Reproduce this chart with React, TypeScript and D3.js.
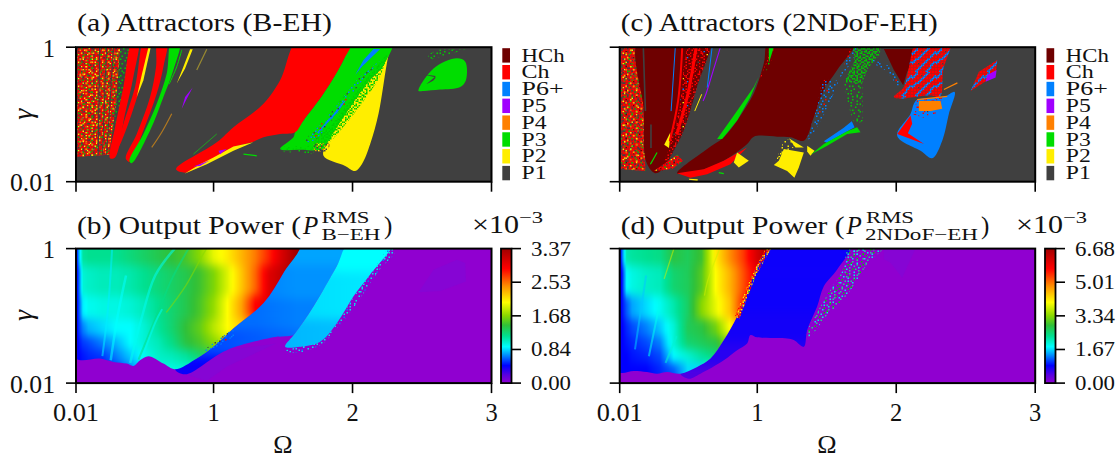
import React from 'react';
import * as d3 from 'd3';

type Pt = [number, number]; // [Omega, log10(gamma)]
type Shape = [Pt[], string];
type Stroke = [Pt[], string, number];

const legendLabels = ['HCh', 'Ch', 'P6+', 'P5', 'P4', 'P3', 'P2', 'P1'];
const legendColors = ['#6e0000', '#ff0000', '#0080ff', '#a000ff', '#ff8000', '#00dd00', '#ffee00', '#404040'];
const xTicks = [0.01, 1, 2, 3];
const gammaTicks = [0.01, 1];
const barLabelsB = ['0.00', '0.84', '1.68', '2.53', '3.37'];
const barLabelsD = ['0.00', '1.67', '3.34', '5.01', '6.68'];

const cmapStops = [0, 0.06, 0.13, 0.2, 0.27, 0.35, 0.43, 0.5, 0.6, 0.72, 0.85, 1];
const cmapColors = ['#9000d0', '#5a00e0', '#0000ff', '#0080ff', '#00ffff', '#00e090', '#30c038', '#88d800', '#ffff00', '#ff9000', '#ff0000', '#a00000'];

// speckle textures, one letter per grid cell
const tiles: Record<string, string[]> = {
  noiseRed: ['rrykrrgrrrryrkrr', 'rrrrrorryrrrrrry', 'gyrrkrrrrrgkrrrr', 'rrrrrrykrrrrroyr', 'rkrgyrrrrkyrrrrr', 'rrrrrrrgrrrrgrkr', 'yrrorkrrrryrrrrr', 'rrrrrrrykrrrkyrg', 'rgkrrrrrrrgrrrrr', 'rrrryrgrrrrrorry', 'krrrrrrrkyrrrrrr', 'rryrgrrrrrrgkrry', 'rrrrrkyrryrrrrrr', 'orkrrrrrrrrkrgrr', 'rrrrgrryrorrrrkr', 'yrrrrrkrrrrryrrr'],
  noiseRedC: ['rrkrrrrrdrrryrrk', 'rrrrrykrrrrrrrkr', 'rdrrkrrrrkrrgrrr', 'rrrrgrrrrrkrrrry', 'kyrrrrrkrrrdrrrr', 'rrrkrrrrrgrrrkrr', 'rrrrrrdrrrkrryrr', 'krrgrrrrryrrrrrk', 'rrrrrkrkrrrrrkrr', 'rykrrrrrrrdrrrrr', 'rrrrkrrrgrrrkrry', 'rkrrrrrrrrrkrrrr', 'rdrrrgrryrrrrrgr', 'rrrkrrrkrrrrkrrr', 'yrrrrrrrrkrrrrrk', 'rrgrrkrrrrrgrrrr'],
  sprinkle: ['..y....k...', 'k.....g....', '....y.....o', '.g.....k...', '......y....', 'y..k.......', '.....g...y.', '..o.......k', 'k.....y....', '...g.....g.', '.......k...'],
  greenDust: ['..g.....g..g..g.', '.....g.......g..', 'g.......g.......', '...g.g.....g...g', '.......g........', '.g.........g.g..', '....g..g.......g', 'g.........g.....', '...g............', '......g.g...g...', '.g...........g.g', '....g....g......', '.......g........', 'g..g........g...', '.....g.g.......g', '.g.........g....'],
  greenCloud: ['g.gg..g.gg.g..gg', '.g..gg...g..gg..', 'gg.g..ggg.gg..g.', '..gg.g.g...g.gg.', 'g...gg..gg.g...g', '.gg.g.g...gg.g..', 'g..g..gg.g..gg.g', '.g.ggg...g.g..g.', 'gg...g.gg.g.gg..', '..gg.gg..gg...gg', 'g.g...g.g..g.g..', '.g.gg..g.gg.g..g', 'gg..g.gg...gg.g.', '..g.g...gg.g..gg', 'g..gg.g.g...gg..', '.gg...gg.g.g..g.'],
  brownDust: ['o.k.y.o..k.o.g.k', '.k.o..k.o..k..o.', 'y..k.o...y.o.k..', '.o...k.o.k...o.k', 'k.o.y...k..y....', '..k..o.k...k.o.y', 'o..k...o.y......', '.k..y.k...o.k.o.', 'o..o..k.o..k...k', '.y.k.o...k...y..', 'k...o.k..o.k..o.', '.o.k...y..k.o...', '..o..k.o.k.....k', 'k.y..o...o.k.y..', '.o..k...k...o..o', '...o.y.o..k.....'],
  redDust: ['.r...r.....r...r', '...r.....g......', 'r......r...r..g.', '....g.....r.....', '.r.....r.....r..', '...r.......g...r', 'r.......r.......', '....r.g.....r...', '..r........r...r', '.......r........', 'g...r.....r...r.', '.r........g.....', '....r..r.....r..', 'r..........r....', '...g..r.....r..g', '.r.......r......'],
  hchRed: ['ddrdddrrdddrddrd', 'drrddddrddrddrdd', 'dddrdbddrrdddddr', 'rddrrddddrddrddd', 'ddddrddyddrrddrd', 'drdddrddrdddrddd', 'dddrrddddrbddddr', 'rddddrddrrdddrdd', 'ddrddddrdddrdddr', 'dkddrrdddrdddrdd', 'ddrdddrddddrrddd', 'rdddrddbdrddddrd', 'ddrddddrrdddrddd', 'dddrrddddrddddrr', 'rdddrddrdddrrddd', 'ddrddrrdddrddddr'],
  redBlue: ['rrrbrrrrrrbbrrrr', 'rrbbrrrrrbbrrrrr', 'rbbrrrkrbbrrrrrb', 'bbrrrrrbbrrrrrbb', 'brrrrrbbrrrrrbbr', 'rrrrrbbrrrrrbbrr', 'rrrrbbrrrrrrbrrr', 'rrbbbrrrrrbbrrrr', 'rbbrrrrrrbbrrrrr', 'bbrrrrrrbbrrrrbb', 'brrrkrrbbrrrrbbr', 'rrrrrrbbrrrrbbrr', 'rrrrrbbrrrrrbrrr', 'rrrrbbrrrrrbbrrr', 'rrrbbrrrrrbbrrrr', 'rrbbrrrrrbbrrrrr'],
  blueRed: ['bbbrbbbbbrbbbbbb', 'bbrrbbrbbbbbrbbr', 'rbbbbbbbrrbbbbbb', 'bbbrbbbbbbbbbrrb', 'bbbbbrbrbbbbbbbb', 'brrbbkbbbbrbbbbr', 'bbbbbbbbbbbrrbbb', 'bbbrrbbrbbbbbbbb', 'rbbbbbbbbrbbbbrb', 'bbbbbrbbbbbbrbbb', 'bbrbbbbbrbkbbbbb', 'bbbbbbbrbbbbbbrr', 'brrbbbbbbbrbbbbb', 'bbbbrbbbbbbbbrbb', 'rbbbbbrrbbbrbbbb', 'bbbrbbbbbbbbbbbr'],
  blueDust: ['.b..k.b...b..k..', '...b.....b.....b', 'b.....r.....b...', '..k.b...b.......', '.b......k..b...k', '...b.r.....k.b..', 'b.....b..b......', '..b.......k...b.', '.k..b.b.....b...', 'b.....k..b......', '..r.b.....b..k..', '.b......b......b', '...k.b.r...b....', 'b.......b...k...', '...b...k.....b..', '.k...b.....b....'],
  yellowDust: ['.y...k...y..k...', '...y...y.....y..', 'y..k.....y.k....', '..y...y......y.k', '.k...y...k.y....', 'y..y.....y.....y', '...k..y.y...k...', '.y.......k.y....', '...y.k.y....y...', 'y.....y..k.....y', '..k.y.....y.y...', '.y....k.y.......', '...y.....y.k.y..', 'k..y.y..........', '.....y...k.y...y', '.y.k....y.......'],
  cyanDust: ['.c.....c.b...c..', '...b.c.....c....', 'c.......c......c', '..c..b.....c.c..', '......c.c.......', '.c.c.......b...c', '.....c..c.c.....', 'c.b.......c.....', '...c.c.......c..', '.......c.b.....c', '.c.......c..c...', '...c.b......c...', 'c......c.c......', '..c.........c..b', '....c..b.c......', '.c.........c....'],
  tealDust: ['.t...g.c...t...g', '...c.....t...g..', 't.....t.....c...', '..g.c...g.t....t', '......t.....t...', '.c.t.....c...g..', '....g.t.....t..c', 't........c.t....', '..c.t.g.........', '.....c...t.c...g', '.g.......g...t..', '...t.c.t........', 'c.......c..g...t', '..t..g.....t....', '....c...t.....g.', '.t.....g...c....'],
  hotEdge: ['yor.rog.oyr.oyr.', 'r.oyro.ryo.ror.o', 'orygo.roy.roro.y', '.ryo.rory.oyr.or', 'yo.rgyo.rory.o.r', 'or.yor.oyr.oyr.o', 'ry.or.yo.gro.r.y', 'o.ryo.ry.ory.o.r', 'yro.gor.ory.or.o', '.oyr.oyr.roy.r.y', 'ro.yr.go.yr.oy.r', 'oy.ro.yr.oyr.o.y', 'r.oyr.oy.ro.yr.o', 'yor.oy.rg.yor.r.', 'o.ry.or.yo.r.oy.', '.yo.r.oy.ro.yr.o'],
};
const tileColors: Record<string, string> = {
  r: '#ff0000', y: '#ffee00', g: '#00cc00', k: '#404040', o: '#ff8000', b: '#0080ff', d: '#6e0000',
  c: '#00e8e8', t: '#20d090',
};

// panel (a) regions; points above log10(gamma)=0 run out past the frame, which clips them
const aLeftChaos: Pt[] = [[0.02, 0], [0.327, 0], [0.3, -0.8], [0.25, -1.6], [0.02, -1.63]];
const aGapDust: Pt[] = [[0.33, 0.1], [0.41, 0.1], [0.35, -0.6], [0.29, -1.4], [0.27, -1.4], [0.31, -0.6]];
const aBand1: Pt[] = [[0.418, 0.12], [0.46, 0.12], [0.423, -0.44], [0.363, -0.99], [0.291, -1.64], [0.255, -1.65], [0.291, -1.19], [0.351, -0.59]];
const aBand2: Pt[] = [[0.5, 0.12], [0.53, 0.12], [0.483, -0.49], [0.411, -0.99], [0.339, -1.39], [0.303, -1.54], [0.351, -1.14], [0.435, -0.59]];
const aBand2Yellow: Pt[] = [[0.531, 0], [0.548, 0], [0.495, -0.49], [0.447, -0.74], [0.483, -0.415]];
const aBand3: Pt[] = [[0.6, 0.12], [0.665, 0.12], [0.639, -0.29], [0.591, -0.69], [0.495, -1.24], [0.399, -1.705], [0.368, -1.655], [0.447, -1.29], [0.543, -0.74], [0.586, -0.29]];
const aGreenBand: Pt[] = [[0.7, 0.12], [0.76, 0.12], [0.711, -0.34], [0.639, -0.74], [0.543, -1.24], [0.411, -1.725], [0.394, -1.69], [0.495, -1.29], [0.591, -0.84], [0.663, -0.39]];
const aYellowThin: Pt[] = [[0.831, -0.03], [0.85, -0.03], [0.795, -0.315], [0.735, -0.54], [0.778, -0.315]];
const aPurpleThin: Pt[] = [[0.85, -0.6], [0.807, -0.765], [0.771, -0.915], [0.795, -0.74]];
const aRedWing: Pt[] = [[0.73, -1.815], [1.023, -1.415], [1.143, -1.19], [1.359, -0.84], [1.479, -0.49], [1.62, 0.15], [2.0, 0.15], [1.935, -0.19], [1.791, -0.69], [1.647, -1.09], [1.587, -1.265], [1.479, -1.29], [1.359, -1.34], [1.275, -1.415], [1.143, -1.49], [0.999, -1.665], [0.879, -1.79], [0.8, -1.865]];
const aYellowSliver: Pt[] = [[0.79, -1.88], [0.951, -1.74], [1.143, -1.54], [1.287, -1.415], [1.143, -1.475], [0.999, -1.64], [0.903, -1.74]];
const aPurpleA: Pt[] = [[1.035, -1.54], [1.095, -1.515], [1.047, -1.59]];
const aPurpleB: Pt[] = [[0.855, -1.775], [0.975, -1.68], [0.903, -1.765]];
const aGreenFan: Pt[] = [[2.0, 0.12], [2.29, 0.12], [2.223, -0.265], [2.103, -0.54], [1.983, -0.89], [1.827, -1.39], [1.791, -1.515], [1.623, -1.525], [1.479, -1.515], [1.575, -1.34], [1.587, -1.265], [1.647, -1.09], [1.791, -0.69], [1.935, -0.19]];
const aYellowLobe: Pt[] = [[2.28, 0.1], [2.247, -0.24], [2.187, -0.99], [2.127, -1.44], [2.067, -1.74], [2.019, -1.84], [1.947, -1.765], [1.791, -1.615], [1.827, -1.39], [1.983, -0.89], [2.103, -0.54], [2.223, -0.265]];
const aBlueTop: Pt[] = [[2.151, -0.025], [2.199, -0.025], [2.067, -0.29], [2.019, -0.415], [2.079, -0.19]];
const aBlueLow: Pt[] = [[1.955, -0.78], [1.89, -0.97], [1.76, -1.26], [1.74, -1.28], [1.86, -1.0], [1.93, -0.82]];
const aSpeckleEdge: Pt[] = [[2.25, -0.1], [2.2, -0.42], [2.08, -0.8], [1.96, -1.12], [1.84, -1.4], [1.76, -1.5], [1.72, -1.42], [1.85, -1.15], [1.98, -0.8], [2.08, -0.52], [2.2, -0.22]];
const aGreenRim: Pt[] = [[2.2, -0.2], [2.07, -0.5], [1.97, -0.78], [1.84, -1.12], [1.72, -1.4], [1.66, -1.4], [1.8, -1.08], [1.93, -0.75], [2.04, -0.47]];
const aBrownSpot: Pt[] = [[1.72, -1.43], [1.84, -1.43], [1.82, -1.56], [1.72, -1.55]];
const aFanEdge: Pt[] = [[1.48, -1.48], [1.72, -1.46], [1.72, -1.58], [1.5, -1.56]];
const aGreenBlob: Pt[] = [[2.475, -0.65], [2.583, -0.315], [2.751, -0.165], [2.811, -0.215], [2.816, -0.49], [2.775, -0.59], [2.631, -0.63], [2.511, -0.65]];
const aBlobTail: Pt[] = [[2.54, -0.2], [2.62, -0.15], [2.82, -0.03], [2.62, -0.03], [2.55, -0.1]];
const aBlobNotch: Pt[] = [[2.5, -0.4], [2.6, -0.43], [2.53, -0.55], [2.58, -0.5], [2.6, -0.45]];
const aStripes: Stroke[] = [
  [[[0.18, 0], [0.17, -1.6]], 'P1', 1.2],
  [[[0.23, 0], [0.2, -1.6]], 'P1', 1],
  [[[0.28, 0], [0.23, -1.6]], 'P1', 1],
  [[[0.951, -0.03], [0.879, -0.34]], '#9a8a30', 1.2],
  [[[0.771, -0.04], [0.735, -0.29], [0.68, -0.55]], 'P3', 1],
  [[[0.699, -0.99], [0.627, -1.265], [0.555, -1.49]], '#b07820', 1.2],
  [[[1.023, -1.29], [0.855, -1.59]], '#20a020', 1],
  [[[1.215, -1.59], [1.311, -1.615]], 'P3', 1.2],
];
const aShapes: Shape[] = [
  [aLeftChaos, 'noiseRed'], [aLeftChaos, 'sprinkle'], [aGapDust, 'greenDust'], [aBand1, 'Ch'], [aBand2, 'Ch'], [aBand2Yellow, 'P2'], [aBand3, 'Ch'], [aGreenBand, 'P3'],
  [aYellowThin, 'P2'], [aPurpleThin, 'P5'], [aYellowLobe, 'P2'], [aGreenFan, 'P3'], [aRedWing, 'Ch'], [aYellowSliver, 'P2'],
  [aPurpleA, 'P5'], [aPurpleB, 'P5'], [aBlueTop, 'P6+'], [aBlueLow, 'P6+'], [aSpeckleEdge, 'greenCloud'], [aGreenRim, 'blueDust'], [aBrownSpot, 'brownDust'],
  [aFanEdge, 'greenDust'], [aGreenBlob, 'P3'], [aBlobTail, 'greenDust'], [aBlobNotch, 'P1'],
];

// panel (c) regions
const cLeftChaos: Pt[] = [[0.02, 0], [0.159, 0], [0.183, -0.94], [0.195, -1.84], [0.02, -1.815]];
const cLeftHch: Pt[] = [[0.15, 0.12], [0.66, 0.12], [0.59, -0.4], [0.52, -0.8], [0.47, -1.1], [0.4, -1.45], [0.3, -1.85], [0.26, -1.87], [0.2, -1.7], [0.183, -0.94]];
const cRedStreak: Pt[] = [[0.53, 0.12], [0.66, 0.12], [0.567, -0.59], [0.471, -1.24], [0.399, -1.54], [0.315, -1.84], [0.363, -1.49], [0.435, -0.94]];
const cRedFoot: Pt[] = [[0.255, -1.84], [0.423, -1.6], [0.466, -1.69], [0.387, -1.815]];
const cWedge: Pt[] = [[1.09, 0.12], [1.71, 0.12], [1.575, -0.34], [1.479, -0.64], [1.407, -1.04], [1.335, -1.39], [1.239, -1.34], [1.143, -1.33], [0.975, -1.33], [0.927, -1.44], [0.759, -1.69], [0.615, -1.815], [0.423, -1.875], [0.639, -1.515], [0.759, -1.34], [0.855, -1.09], [0.975, -0.69], [1.047, -0.24]];
const cRedUnder: Pt[] = [[0.423, -1.875], [0.615, -1.815], [0.759, -1.69], [0.927, -1.49], [0.807, -1.74], [0.639, -1.89], [0.519, -1.94]];
const cGreenSliver: Pt[] = [[0.711, -1.365], [0.831, -1.015], [0.975, -0.59], [1.011, -0.44], [0.951, -0.74], [0.855, -1.09], [0.747, -1.365]];
const cWedgeEdge: Pt[] = [[1.02, -0.45], [1.07, -0.2], [1.09, 0], [1.12, 0], [1.1, -0.2], [1.05, -0.42]];
const cGreenTop: Pt[] = [[1.083, 0], [1.119, 0], [1.083, -0.24]];
const cYellowBlob: Pt[] = [[1.191, -1.515], [1.335, -1.565], [1.299, -1.79], [1.267, -1.94], [1.215, -1.84], [1.119, -1.75], [1.155, -1.69]];
const cYellowDustZone: Pt[] = [[1.13, -1.7], [1.2, -1.35], [1.3, -1.45], [1.2, -1.55]];
const cYellowB: Pt[] = [[0.855, -1.565], [0.939, -1.69], [0.867, -1.79], [0.831, -1.715]];
const cYellowC: Pt[] = [[1.227, -1.355], [1.335, -1.49], [1.275, -1.49]];
const cYellowD: Pt[] = [[1.359, -1.465], [1.412, -1.54], [1.383, -1.615], [1.359, -1.55]];
const cYellowE: Pt[] = [[0.507, -1.955], [0.572, -1.965], [0.57, -1.99], [0.51, -1.97]];
const cYellowF: Pt[] = [[0.33, -1.45], [0.375, -1.265], [0.365, -1.5]];
const cGreenStrip: Pt[] = [[1.383, -1.6], [1.479, -1.44], [1.647, -1.25], [1.719, -1.19], [1.743, -1.265], [1.647, -1.29], [1.503, -1.465]];
const cBlueStrip: Pt[] = [[1.479, -1.4], [1.62, -1.2], [1.68, -1.1], [1.7, -1.19], [1.5, -1.42]];
const cBlueBand: Pt[] = [[1.683, 0], [1.719, 0], [1.575, -0.49], [1.479, -0.49], [1.431, -0.89], [1.359, -1.39], [1.431, -1.19], [1.551, -0.69]];
const cGreenCloud: Pt[] = [[1.62, -0.5], [1.76, -0.5], [1.76, -1.1], [1.7, -1.15], [1.66, -0.9]];
const cGreenHead: Pt[] = [[1.69, 0], [1.89, 0], [1.88, -0.12], [1.8, -0.3], [1.75, -0.55], [1.63, -0.5], [1.7, -0.2]];
const cBlueCurve: Pt[] = [[1.83, -0.18], [1.95, -0.28], [2.04, -0.55], [2.01, -0.58], [1.93, -0.35], [1.83, -0.24]];
const cHchTriangle: Pt[] = [[1.911, -0.025], [2.163, -0.025], [2.079, -0.365], [2.05, -0.565], [1.983, -0.34]];
const cMixUpper: Pt[] = [[2.16, 0.12], [2.39, 0.12], [2.338, -0.34], [2.314, -0.74], [2.247, -0.715], [2.031, -0.765], [1.983, -0.74], [2.055, -0.59], [2.084, -0.365]];
const cBlueLobe: Pt[] = [[2.42, -0.665], [2.379, -0.99], [2.331, -1.39], [2.259, -1.65], [2.175, -1.54], [2.007, -1.315], [2.103, -0.99], [2.127, -0.84], [2.151, -0.78], [2.343, -0.74]];
const cMixLower: Pt[] = [[2.15, -0.78], [2.33, -0.75], [2.3, -0.97], [2.2, -1.05], [2.12, -1.0]];
const cRedPatch: Pt[] = [[2.007, -1.29], [2.103, -1.015], [2.115, -1.14], [2.084, -1.28], [2.2, -1.44], [2.1, -1.36]];
const cOrange: Pt[] = [[2.163, -0.8], [2.319, -0.8], [2.331, -0.915], [2.247, -0.95], [2.163, -0.95]];
const cIsland: Pt[] = [[2.535, -0.65], [2.595, -0.365], [2.727, -0.19], [2.715, -0.415], [2.619, -0.54]];
const cIslandPurple: Pt[] = [[2.655, -0.415], [2.722, -0.34], [2.715, -0.45], [2.643, -0.515]];
const cStripes: Stroke[] = [
  [[[0.18, 0], [0.195, -0.95]], 'P1', 1.6],
  [[[0.235, -1.15], [0.235, -1.5]], 'P1', 1.6],
  [[[0.46, 0], [0.43, -0.8], [0.37, -1.4]], 'Ch', 2],
  [[[0.56, 0], [0.5, -0.7], [0.42, -1.3]], 'Ch', 3],
  [[[0.41, 0], [0.38, -0.95]], 'P6+', 1],
  [[[0.735, 0], [0.69, -0.3], [0.63, -0.7], [0.61, -0.8]], 'P5', 1.1],
  [[[0.675, 0], [0.64, -0.6]], 'P6+', 1],
  [[[0.231, -1.74], [0.279, -1.565]], 'P3', 1.2],
  [[[0.6, -0.7], [0.55, -0.95]], 'P2', 1],
  [[[2.151, -0.78], [2.367, -0.73]], 'P4', 1.2],
  [[[2.343, -0.63], [2.44, -0.53]], 'P4', 1.2],
  [[[0.723, -1.865], [0.759, -1.88]], 'P3', 1.4],
];
const cShapes: Shape[] = [
  [cLeftChaos, 'noiseRedC'], [cLeftChaos, 'sprinkle'], [cLeftHch, 'HCh'], [cRedStreak, 'hchRed'], [cRedFoot, 'noiseRedC'], [cWedge, 'HCh'], [cRedUnder, 'Ch'],
  [cGreenSliver, 'P3'], [cWedgeEdge, 'redDust'], [cGreenTop, 'P3'], [cYellowDustZone, 'yellowDust'], [cYellowBlob, 'P2'], [cYellowB, 'P2'],
  [cYellowC, 'P2'], [cYellowD, 'P2'], [cYellowE, 'P2'], [cYellowF, 'P2'], [cBlueBand, 'blueDust'], [cGreenCloud, 'greenDust'], [cGreenHead, 'greenCloud'],
  [cBlueStrip, 'P6+'], [cGreenStrip, 'P3'], [cBlueCurve, 'blueDust'], [cHchTriangle, 'HCh'], [cBlueLobe, 'P6+'], [cMixUpper, 'redBlue'],
  [cMixLower, 'blueRed'], [cRedPatch, 'Ch'], [cOrange, 'P4'], [cIsland, 'redBlue'], [cIslandPurple, 'P5'],
];

// panel (b): power read along rows of gamma, as fraction of the colour bar
const bOmegas = [0.01, 0.03, 0.06, 0.1, 0.2, 0.3, 0.4, 0.5, 0.6, 0.7, 0.8, 0.9, 1.0, 1.1, 1.2, 1.3, 1.4, 1.5, 1.6];
const bLevels = [0, -0.5, -0.9, -1.2, -1.4, -1.6, -1.8];
const bPower = [
  [0.1, 0.22, 0.34, 0.35, 0.35, 0.35, 0.37, 0.39, 0.41, 0.43, 0.45, 0.5, 0.58, 0.62, 0.68, 0.74, 0.82, 0.92, 1],
  [0.1, 0.18, 0.3, 0.31, 0.32, 0.32, 0.33, 0.35, 0.37, 0.39, 0.41, 0.44, 0.49, 0.57, 0.66, 0.76, 0.9, 0.95, 1],
  [0.1, 0.17, 0.26, 0.28, 0.29, 0.29, 0.3, 0.32, 0.35, 0.38, 0.41, 0.45, 0.51, 0.6, 0.7, 0.85, 0.9, 0.9, 0.9],
  [0.1, 0.16, 0.2, 0.23, 0.25, 0.27, 0.27, 0.3, 0.34, 0.38, 0.43, 0.47, 0.54, 0.6, 0.65, 0.7, 0.7, 0.7, 0.7],
  [0.1, 0.14, 0.16, 0.17, 0.2, 0.23, 0.27, 0.3, 0.32, 0.36, 0.42, 0.45, 0.5, 0.55, 0.6, 0.6, 0.6, 0.6, 0.6],
  [0.1, 0.13, 0.14, 0.15, 0.16, 0.2, 0.24, 0.28, 0.31, 0.32, 0.34, 0.38, 0.4, 0.4, 0.4, 0.4, 0.4, 0.4, 0.4],
  [0.1, 0.13, 0.14, 0.14, 0.14, 0.16, 0.2, 0.26, 0.29, 0.29, 0.3, 0.3, 0.3, 0.3, 0.3, 0.3, 0.3, 0.3, 0.3],
];
const bHot: Pt[] = [[0, 0.1], [1.62, 0.1], [1.503, -0.36], [1.359, -0.81], [1.143, -1.185], [0.999, -1.46], [0.879, -1.635], [0.723, -1.795], [0.639, -1.71], [0.531, -1.6], [0.471, -1.66], [0.423, -1.745], [0.375, -1.71], [0.279, -1.685], [0.183, -1.635], [0, -1.62]];
const bCoolOmegas = [0.7, 1.0, 1.3, 1.6, 1.9];
const bCoolLevels = [0, -0.5, -1, -1.4, -1.8];
const bCoolPower = [
  [0.21, 0.21, 0.21, 0.22, 0.22],
  [0.2, 0.2, 0.2, 0.21, 0.21],
  [0.19, 0.19, 0.19, 0.2, 0.2],
  [0.16, 0.17, 0.18, 0.19, 0.19],
  [0.12, 0.13, 0.14, 0.15, 0.15],
];
const bCool: Pt[] = [[1.6, 0.1], [1.97, 0.1], [1.887, -0.26], [1.719, -0.86], [1.587, -1.26], [1.575, -1.285], [1.479, -1.31], [1.455, -1.31], [1.095, -1.51], [0.795, -1.87], [0.723, -1.795], [0.879, -1.635], [0.999, -1.46], [1.143, -1.185], [1.359, -0.81], [1.503, -0.36]];
const bCyanOmegas = [1.5, 2.3];
const bCyanLevels = [0, -0.7, -1.4];
const bCyanPower = [[0.27, 0.27], [0.25, 0.26], [0.23, 0.24]];
const bCyan: Pt[] = [[1.98, 0.1], [2.29, 0.1], [2.127, -0.385], [2.007, -0.71], [1.887, -1.11], [1.767, -1.385], [1.623, -1.46], [1.515, -1.46], [1.587, -1.26], [1.719, -0.86], [1.887, -0.26]];
const bCyanEdge: Pt[] = [[2.26, 0], [2.31, 0], [2.3, -0.08], [2.2, -0.3], [2.1, -0.6], [2.0, -0.9], [1.9, -1.15], [1.78, -1.42], [1.6, -1.55], [1.51, -1.52], [1.62, -1.46], [1.77, -1.38], [1.89, -1.11], [2.01, -0.71], [2.13, -0.38]];
const bHotDots: Pt[] = [[0.9, -1.56], [1.0, -1.4], [1.14, -1.19], [1.15, -1.3], [1.03, -1.46]];
const bFaintWedge: Pt[] = [[0.8, -1.87], [1.095, -1.51], [1.45, -1.41], [1.1, -1.75], [0.95, -1.97]];
const bFaintBlob: Pt[] = [[2.475, -0.65], [2.583, -0.315], [2.751, -0.165], [2.811, -0.215], [2.816, -0.49], [2.631, -0.63]];
const bStreaks: [Pt[], number, number][] = [
  [[[0.2, -1.6], [0.24, -0.9], [0.27, 0]], 0.26, 2],
  [[[0.26, -1.66], [0.31, -1.0], [0.37, -0.4]], 0.27, 2.5],
  [[[0.4, -1.7], [0.48, -1.05], [0.58, -0.4], [0.72, 0]], 0.28, 2.5],
  [[[0.46, -1.65], [0.6, -0.95], [0.7, -0.45], [0.82, 0]], 0.36, 2],
  [[[0.66, -0.95], [0.8, -0.55], [0.92, -0.1], [0.95, 0]], 0.5, 1.4],
  [[[0.49, -1.6], [0.58, -1.1], [0.63, -0.9]], 0.28, 2],
];

// panel (d)
const dOmegas = [0.01, 0.03, 0.06, 0.1, 0.2, 0.3, 0.4, 0.5, 0.6, 0.7, 0.8, 0.9, 1.0, 1.1];
const dLevels = [0, -0.5, -0.9, -1.2, -1.4, -1.6, -1.8];
const dPower = [
  [0.1, 0.2, 0.33, 0.34, 0.35, 0.36, 0.42, 0.4, 0.44, 0.62, 0.72, 0.8, 0.92, 1],
  [0.1, 0.15, 0.27, 0.29, 0.31, 0.32, 0.38, 0.4, 0.46, 0.6, 0.68, 0.78, 0.88, 0.9],
  [0.12, 0.14, 0.18, 0.22, 0.25, 0.28, 0.33, 0.39, 0.5, 0.58, 0.66, 0.82, 0.82, 0.82],
  [0.12, 0.13, 0.15, 0.17, 0.2, 0.24, 0.3, 0.4, 0.42, 0.48, 0.6, 0.7, 0.7, 0.7],
  [0.12, 0.13, 0.14, 0.15, 0.17, 0.2, 0.3, 0.38, 0.4, 0.42, 0.5, 0.5, 0.5, 0.5],
  [0.12, 0.13, 0.13, 0.14, 0.15, 0.17, 0.27, 0.3, 0.34, 0.37, 0.4, 0.4, 0.4, 0.4],
  [0.12, 0.13, 0.13, 0.13, 0.13, 0.15, 0.18, 0.25, 0.25, 0.3, 0.3, 0.3, 0.3, 0.3],
];
const dHot: Pt[] = [[0, 0.1], [1.08, 0.1], [0.999, -0.26], [0.927, -0.66], [0.855, -1.01], [0.759, -1.36], [0.663, -1.635], [0.567, -1.76], [0.447, -1.86], [0.351, -1.835], [0.279, -1.86], [0.207, -1.835], [0.111, -1.82], [0, -1.83]];
const dCoolOmegas = [0.4, 0.8, 1.2, 1.7];
const dCoolLevels = [0, -0.7, -1.2, -1.6, -1.9];
const dCoolPower = [
  [0.12, 0.12, 0.12, 0.12],
  [0.12, 0.12, 0.12, 0.12],
  [0.115, 0.115, 0.115, 0.115],
  [0.1, 0.1, 0.1, 0.1],
  [0.07, 0.07, 0.07, 0.07],
];
const dCool: Pt[] = [[1.08, 0.1], [1.68, 0.1], [1.575, -0.31], [1.479, -0.56], [1.431, -0.86], [1.359, -1.21], [1.335, -1.46], [1.263, -1.36], [1.215, -1.335], [0.999, -1.32], [0.951, -1.285], [0.927, -1.41], [0.855, -1.51], [0.759, -1.66], [0.591, -1.86], [0.507, -1.935], [0.447, -1.86], [0.567, -1.76], [0.663, -1.635], [0.759, -1.36], [0.855, -1.01], [0.927, -0.66], [0.999, -0.26]];
const dTealEdge: Pt[] = [[1.659, 0], [1.9, 0], [1.8, -0.2], [1.74, -0.4], [1.64, -0.7], [1.5, -1.0], [1.38, -1.3], [1.35, -1.3], [1.43, -0.95], [1.53, -0.6], [1.62, -0.3]];
const dTealHead: Pt[] = [[1.67, 0], [1.84, 0], [1.72, -0.15]];
const dHotEdge: Pt[] = [[1.06, 0], [1.1, 0], [0.99, -0.4], [0.87, -1.05], [0.84, -1.0], [0.96, -0.4]];
const dBluePatch: Pt[] = [[1.911, 0], [2.139, 0], [2.103, -0.16], [2.043, -0.435], [1.959, -0.21], [1.911, -0.16]];
const dStreaks: [Pt[], number, number][] = [
  [[[0.4, 0], [0.33, -0.45]], 0.56, 1.3],
  [[[0.73, 0], [0.64, -0.5], [0.62, -0.7]], 0.56, 1.3],
  [[[0.12, -1.5], [0.2, -0.4]], 0.24, 2],
  [[[0.22, -1.6], [0.3, -0.8]], 0.28, 2],
  [[[0.34, -1.7], [0.42, -1.3]], 0.3, 2],
];

const PLOT_W = 415.5;
const PLOT_H = 134.5;
const cmap = d3.scaleLinear<string>().domain(cmapStops).range(cmapColors).clamp(true);
const legendColor = d3.scaleOrdinal<string, string>().domain(legendLabels).range(legendColors);
const serif = '"Liberation Serif", serif';
const CELL = 1.5;

const tileCell = (rows: string[]) => d3.scaleBand<number>().domain(d3.range(rows[0].length)).range([0, rows[0].length * CELL]);

const fillOf = (key: string) => (tiles[key] ? `url(#tile-${key})` : legendLabels.includes(key) ? legendColor(key) : key);

function makeScales(left: number, top: number) {
  const x = d3.scaleLinear().domain([0.01, 3]).range([left, left + PLOT_W]);
  const yLog = d3.scaleLog().domain([0.01, 1]).range([top + PLOT_H, top]);
  const y = (lg: number) => yLog(Math.pow(10, lg));
  const line = d3.line<Pt>().x((d) => x(d[0])).y((d) => y(d[1])).curve(d3.curveCatmullRom.alpha(0.5));
  const round = d3.line<Pt>().x((d) => x(d[0])).y((d) => y(d[1])).curve(d3.curveCatmullRomClosed.alpha(0.5));
  const sharp = d3.line<Pt>().x((d) => x(d[0])).y((d) => y(d[1])).curve(d3.curveLinearClosed);
  // small outlines keep their corners, long ones read better rounded
  const blob = (pts: Pt[]) => (pts.length <= 7 ? sharp(pts) : round(pts)) as string;
  return { x, y, line, blob };
}

function Axes({ left, top, showX }: { left: number; top: number; showX: boolean }) {
  const { x } = makeScales(left, top);
  const yLog = d3.scaleLog().domain([0.01, 1]).range([top + PLOT_H, top]);
  return (
    <g stroke="#000" strokeWidth={1.6}>
      <rect x={left} y={top} width={PLOT_W} height={PLOT_H} fill="none" strokeWidth={2} />
      {xTicks.map((t) => (
        <line key={t} x1={x(t)} x2={x(t)} y1={top + PLOT_H} y2={top + PLOT_H + 10} />
      ))}
      {gammaTicks.map((t) => (
        <line key={t} x1={left - 10} x2={left} y1={yLog(t)} y2={yLog(t)} />
      ))}
      {showX &&
        xTicks.map((t) => (
          <text key={t} x={x(t)} y={top + PLOT_H + 37.5} textAnchor="middle" stroke="none" fill="#111" fontFamily={serif} fontSize={24.5} {...(t === 0.01 ? { textLength: 46, lengthAdjust: 'spacingAndGlyphs' } : {})}>
            {t}
          </text>
        ))}
    </g>
  );
}

function YLabels({ top }: { top: number }) {
  const yLog = d3.scaleLog().domain([0.01, 1]).range([top + PLOT_H, top]);
  return (
    <g fontFamily={serif} fill="#111">
      {gammaTicks.map((t) => (
        <text key={t} x={55} y={yLog(t) + 9.5} textAnchor="end" fontSize={24.5} {...(t === 0.01 ? { textLength: 45, lengthAdjust: 'spacingAndGlyphs' } : {})}>
          {t}
        </text>
      ))}
      <text transform={`translate(32,${top + 67}) rotate(-90)`} textAnchor="middle" fontSize={28} fontStyle="italic">
        γ
      </text>
    </g>
  );
}

function Regions({ id, left, top, shapes, strokes }: { id: string; left: number; top: number; shapes: Shape[]; strokes: Stroke[] }) {
  const { line, blob } = makeScales(left, top);
  return (
    <g clipPath={`url(#frame-${id})`}>
      <clipPath id={`frame-${id}`}>
        <rect x={left} y={top} width={PLOT_W} height={PLOT_H} />
      </clipPath>
      <rect x={left} y={top} width={PLOT_W} height={PLOT_H} fill={legendColor('P1')} />
      {shapes.map(([pts, key], i) => (
        <path key={i} d={blob(pts)} fill={fillOf(key)} />
      ))}
      {strokes.map(([pts, key, w], i) => (
        <path key={i} d={line(pts) as string} fill="none" stroke={fillOf(key)} strokeWidth={w} />
      ))}
    </g>
  );
}

// one gradient strip per gamma row, softened vertically and cut by the region outline
function HeatStrips({ id, left, top, outline, omegas, levels, values }: { id: string; left: number; top: number; outline: Pt[]; omegas: number[]; levels: number[]; values: number[][] }) {
  const { x, y, blob } = makeScales(left, top);
  const x0 = x(omegas[0]);
  const x1 = x(omegas[omegas.length - 1]);
  const edges = levels.map((lg, i) => (i === 0 ? y(0) - 40 : (y(levels[i - 1]) + y(lg)) / 2));
  edges.push(y(-2) + 40);
  return (
    <g clipPath={`url(#clip-${id})`}>
      <defs>
        <clipPath id={`clip-${id}`}>
          <path d={blob(outline)} />
        </clipPath>
        {values.map((row, r) => (
          <linearGradient key={r} id={`grad-${id}-${r}`} gradientUnits="userSpaceOnUse" x1={x0} x2={x1} y1={0} y2={0}>
            {row.slice(1).flatMap((v, c) =>
              d3.range(5).map((k) => {
                const f = k / 5;
                const om = omegas[c] + (omegas[c + 1] - omegas[c]) * f;
                return <stop key={`${c}-${k}`} offset={(x(om) - x0) / (x1 - x0)} stopColor={cmap(row[c] + (v - row[c]) * f)} />;
              }),
            )}
            <stop offset={1} stopColor={cmap(row[row.length - 1])} />
          </linearGradient>
        ))}
      </defs>
      <g filter="url(#softRows)">
        {values.map((_, r) => (
          <rect key={r} x={x0 - 5} y={edges[r]} width={x1 - x0 + 10} height={edges[r + 1] - edges[r] + 0.5} fill={`url(#grad-${id}-${r})`} />
        ))}
      </g>
    </g>
  );
}

function PowerPanel(props: {
  id: string; left: number; top: number; hot: Pt[]; hotOmegas: number[]; hotLevels: number[]; hotValues: number[][];
  cool: Pt[]; coolOmegas: number[]; coolLevels: number[]; coolValues: number[][];
  faint: Pt[][]; over: Shape[]; streaks: [Pt[], number, number][]; children?: React.ReactNode;
}) {
  const { id, left, top, faint, over, streaks } = props;
  const { line, blob } = makeScales(left, top);
  return (
    <g clipPath={`url(#frame-${id})`}>
      <clipPath id={`frame-${id}`}>
        <rect x={left} y={top} width={PLOT_W} height={PLOT_H} />
      </clipPath>
      <rect x={left} y={top} width={PLOT_W} height={PLOT_H} fill={cmap(0)} />
      {faint.map((pts, i) => (
        <path key={i} d={blob(pts)} fill="#7a0cda" opacity={0.45} />
      ))}
      <HeatStrips id={`${id}-cool`} left={left} top={top} outline={props.cool} omegas={props.coolOmegas} levels={props.coolLevels} values={props.coolValues} />
      {props.children}
      <HeatStrips id={`${id}-hot`} left={left} top={top} outline={props.hot} omegas={props.hotOmegas} levels={props.hotLevels} values={props.hotValues} />
      {streaks.map(([pts, v, w], i) => (
        <path key={i} d={line(pts) as string} fill="none" stroke={cmap(v)} strokeWidth={w} opacity={0.55} />
      ))}
      {over.map(([pts, key], i) => (
        <path key={i} d={blob(pts)} fill={fillOf(key)} />
      ))}
    </g>
  );
}

function Legend({ x, top }: { x: number; top: number }) {
  const row = d3.scaleBand<string>().domain(legendLabels).range([top, top + 134.5]);
  return (
    <g fontFamily={serif} fontSize={19.5} fill="#111">
      {legendLabels.map((l) => (
        <g key={l}>
          <rect x={x} y={(row(l) as number) + 1} width={7.7} height={14.4} fill={legendColor(l)} />
          <text x={x + 19.3} y={(row(l) as number) + 14.4} textLength={l === 'HCh' ? 43 : l === 'P6+' ? 42 : l === 'Ch' ? 28 : 25} lengthAdjust="spacingAndGlyphs">
            {l}
          </text>
        </g>
      ))}
    </g>
  );
}

function ColorBar({ x, top, labels, gid }: { x: number; top: number; labels: string[]; gid: string }) {
  const y = d3.scaleLinear().domain([0, labels.length - 1]).range([top + PLOT_H, top]);
  return (
    <g>
      <defs>
        <linearGradient id={gid} x1={0} x2={0} y1={1} y2={0}>
          {cmapStops.map((s) => (
            <stop key={s} offset={s} stopColor={cmap(s)} />
          ))}
        </linearGradient>
      </defs>
      <rect x={x} y={top} width={10.5} height={PLOT_H} fill={`url(#${gid})`} stroke="#000" strokeWidth={1.8} />
      {labels.map((l, i) => (
        <g key={l}>
          <line x1={x + 10.5} x2={x + 20} y1={y(i)} y2={y(i)} stroke="#000" strokeWidth={1.6} />
          <text x={x + 30} y={y(i) + 7} fontFamily={serif} fontSize={20} fill="#111" textLength={40} lengthAdjust="spacingAndGlyphs">
            {l}
          </text>
        </g>
      ))}
    </g>
  );
}

function Title({ x, y, w, text }: { x: number; y: number; w: number; text: string }) {
  return (
    <text x={x} y={y} fontFamily={serif} fontSize={25} fill="#111" textLength={w} lengthAdjust="spacingAndGlyphs">
      {text}
    </text>
  );
}

function Exponent({ x, y }: { x: number; y: number }) {
  return (
    <g fontFamily={serif} fill="#111">
      <text x={x} y={y} fontSize={25} textLength={47} lengthAdjust="spacingAndGlyphs">×10</text>
      <text x={x + 47} y={y - 10.5} fontSize={17} textLength={24} lengthAdjust="spacingAndGlyphs">−3</text>
    </g>
  );
}

export default function App() {
  const leftA = 76;
  const leftC = 619.7;
  const topRow = 47.2;
  const lowRow = 248.6;
  const tileDefs = Object.entries(tiles).map(([name, rows]) => {
    const band = tileCell(rows);
    return (
      <pattern key={name} id={`tile-${name}`} patternUnits="userSpaceOnUse" width={rows[0].length * CELL} height={rows.length * CELL}>
        {rows.flatMap((line, r) =>
          line.split('').map((ch, c) =>
            ch === '.' ? null : <rect key={`${r}-${c}`} x={band(c)} y={band(r)} width={CELL} height={CELL} fill={tileColors[ch]} />,
          ),
        )}
      </pattern>
    );
  });

  return (
    <svg width={1118} height={458} viewBox="0 0 1118 458" style={{ position: 'absolute', left: 0, top: 0, display: 'block', background: '#fff' }}>
      <defs>
        {tileDefs}
        <filter id="softRows" filterUnits="userSpaceOnUse" x={0} y={0} width={1118} height={500} colorInterpolationFilters="sRGB">
          <feGaussianBlur stdDeviation="0 5" />
        </filter>
      </defs>

      <Title x={77} y={30.5} w={255} text="(a) Attractors (B-EH)" />
      <Regions id="a" left={leftA} top={topRow} shapes={aShapes} strokes={aStripes} />
      <Axes left={leftA} top={topRow} showX={false} />
      <YLabels top={topRow} />
      <Legend x={502.3} top={topRow} />

      <Title x={620.7} y={30.5} w={317} text="(c) Attractors (2NDoF-EH)" />
      <Regions id="c" left={leftC} top={topRow} shapes={cShapes} strokes={cStripes} />
      <Axes left={leftC} top={topRow} showX={false} />
      <Legend x={1046.5} top={topRow} />

      <g fontFamily={serif} fill="#111">
        <text x={77} y={233.5} fontSize={25} textLength={224} lengthAdjust="spacingAndGlyphs">(b) Output Power (</text>
        <text x={303} y={233.5} fontSize={25} fontStyle="italic">P</text>
        <text x={321.5} y={223} fontSize={16} textLength={48} lengthAdjust="spacingAndGlyphs">RMS</text>
        <text x={321.5} y={240} fontSize={16} textLength={59} lengthAdjust="spacingAndGlyphs">B−EH</text>
        <text x={384} y={233.5} fontSize={25}>)</text>

        <text x={620.7} y={233.5} fontSize={25} textLength={224} lengthAdjust="spacingAndGlyphs">(d) Output Power (</text>
        <text x={846.5} y={233.5} fontSize={25} fontStyle="italic">P</text>
        <text x={866} y={223} fontSize={16} textLength={48} lengthAdjust="spacingAndGlyphs">RMS</text>
        <text x={865} y={240} fontSize={16} textLength={113} lengthAdjust="spacingAndGlyphs">2NDoF−EH</text>
        <text x={981} y={233.5} fontSize={25}>)</text>
      </g>
      <Exponent x={472} y={233} />
      <Exponent x={1016} y={233} />

      <PowerPanel id="b" left={leftA} top={lowRow} hot={bHot} hotOmegas={bOmegas} hotLevels={bLevels} hotValues={bPower} cool={bCool} coolOmegas={bCoolOmegas} coolLevels={bCoolLevels} coolValues={bCoolPower} faint={[bFaintWedge, bFaintBlob]} over={[[bHotDots, 'blueDust'], [bCyanEdge, 'cyanDust']]} streaks={bStreaks}>
        <HeatStrips id="b-cyan" left={leftA} top={lowRow} outline={bCyan} omegas={bCyanOmegas} levels={bCyanLevels} values={bCyanPower} />
      </PowerPanel>
      <Axes left={leftA} top={lowRow} showX />
      <YLabels top={lowRow} />
      <ColorBar x={501} top={lowRow} labels={barLabelsB} gid="barB" />

      <PowerPanel id="d" left={leftC} top={lowRow} hot={dHot} hotOmegas={dOmegas} hotLevels={dLevels} hotValues={dPower} cool={dCool} coolOmegas={dCoolOmegas} coolLevels={dCoolLevels} coolValues={dCoolPower} faint={[dBluePatch]} over={[[dTealEdge, 'tealDust'], [dTealHead, 'tealDust'], [dHotEdge, 'hotEdge']]} streaks={dStreaks} />
      <Axes left={leftC} top={lowRow} showX />
      <ColorBar x={1045} top={lowRow} labels={barLabelsD} gid="barD" />

      <g fontFamily={serif} fontSize={26} fill="#111" textAnchor="middle">
        <text x={283} y={453}>Ω</text>
        <text x={827} y={453}>Ω</text>
      </g>
    </svg>
  );
}
